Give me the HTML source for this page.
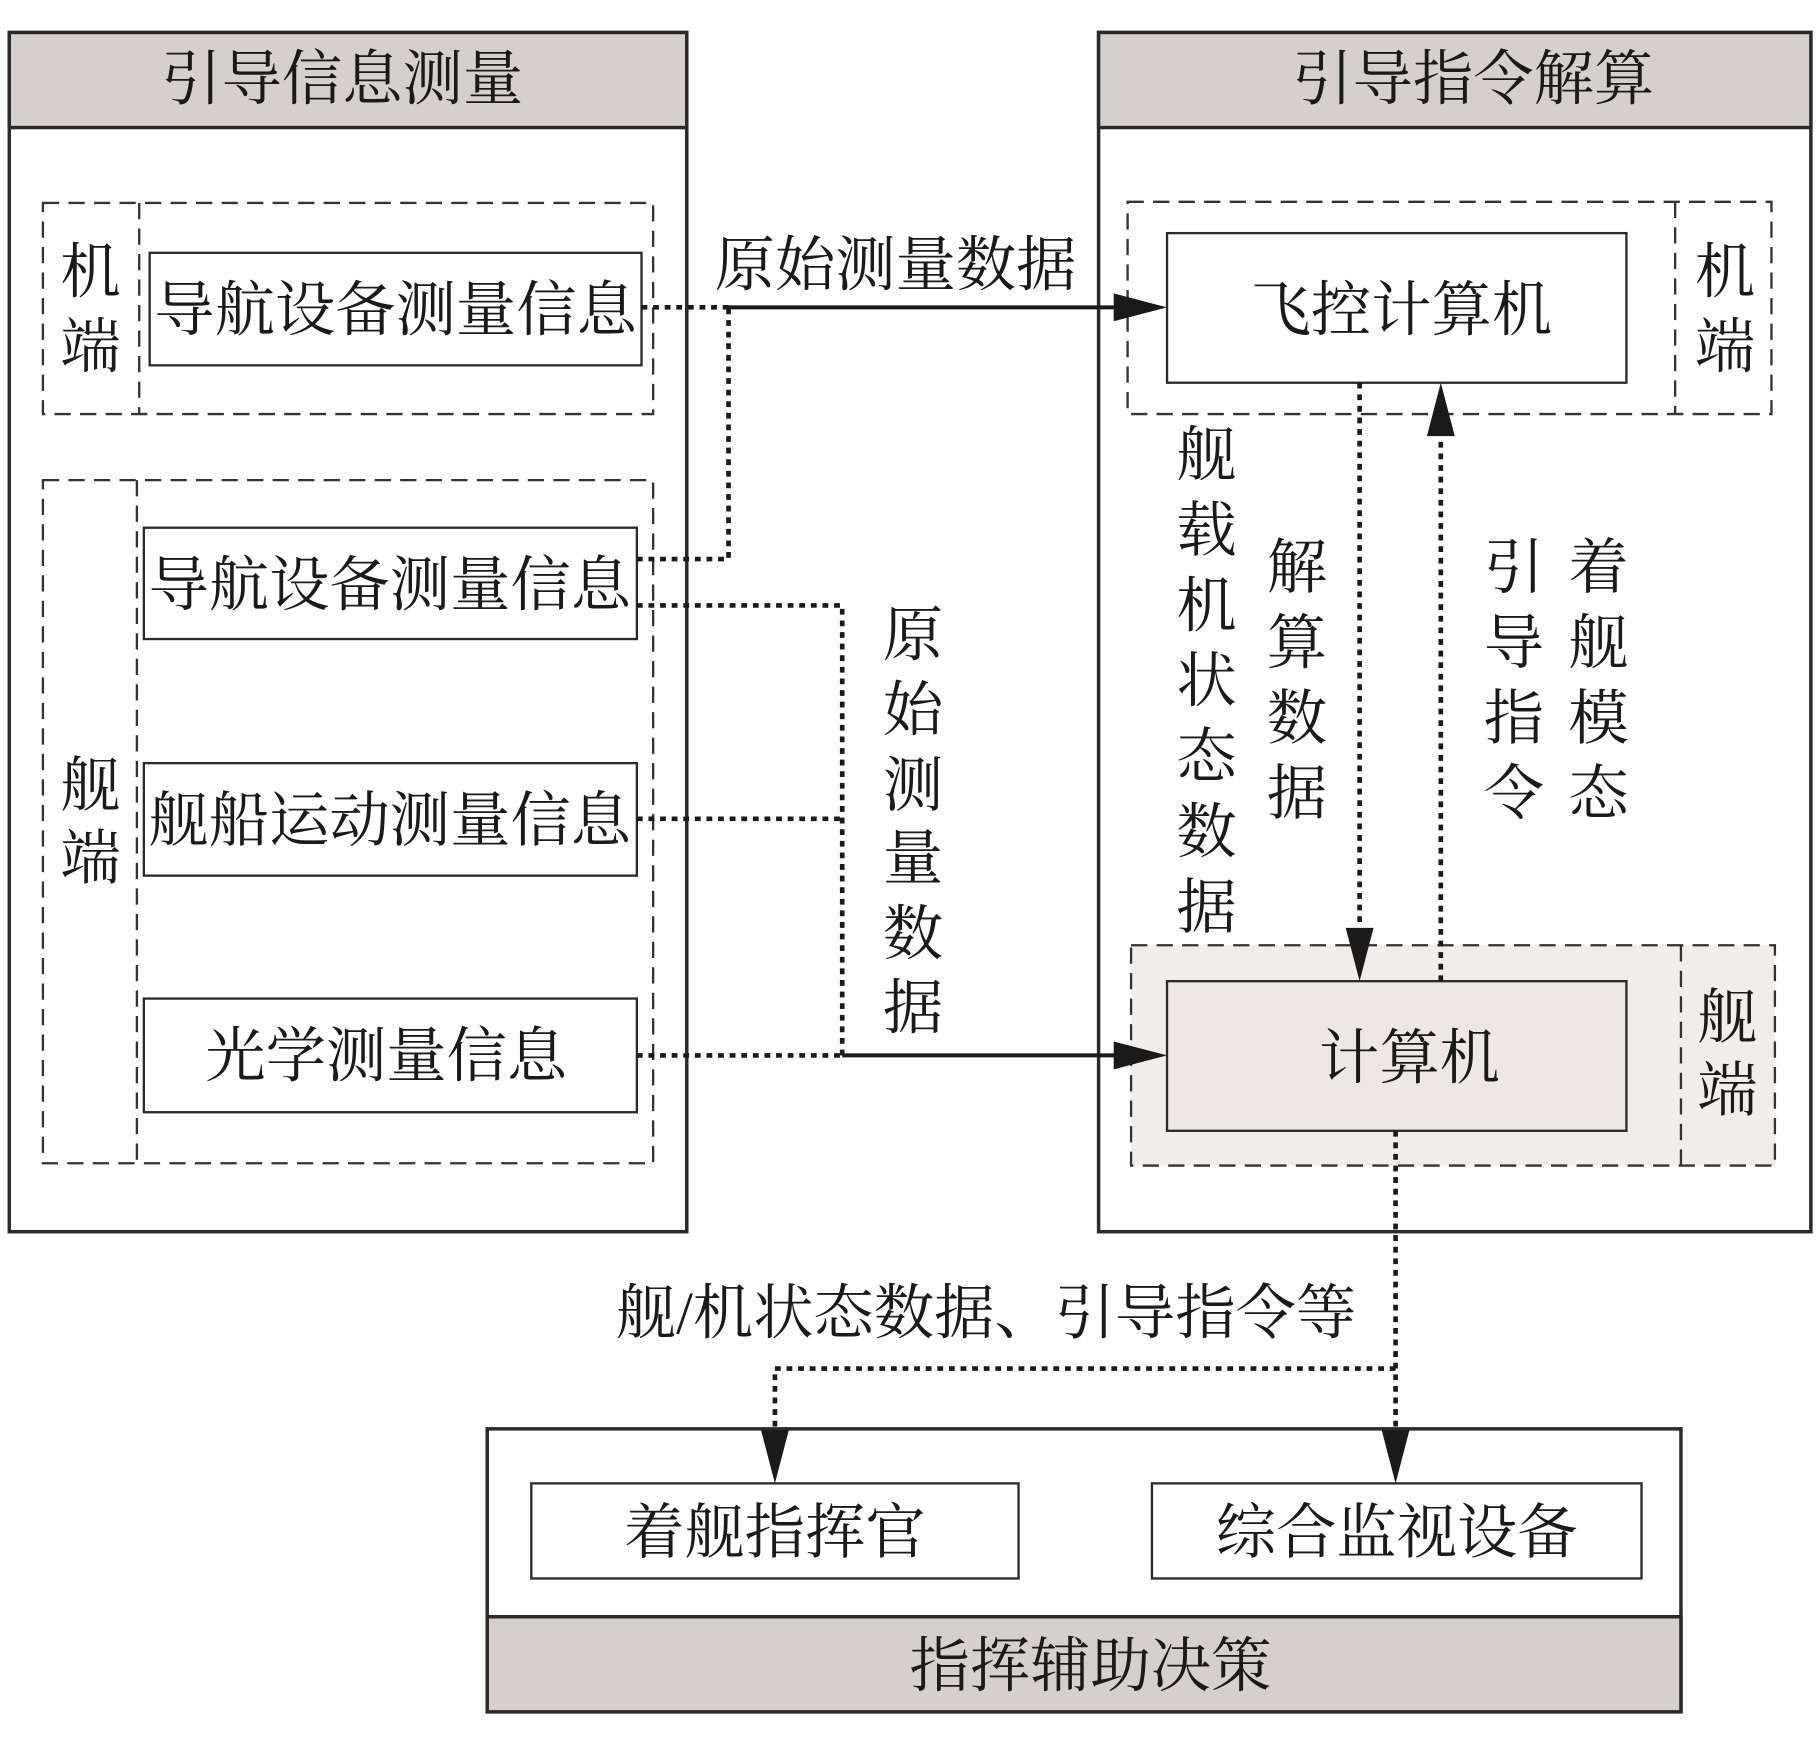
<!DOCTYPE html>
<html><head><meta charset="utf-8"><style>
html,body{margin:0;padding:0;background:#fff;}
svg{display:block;}
text{font-family:"Liberation Serif","Noto Serif CJK SC",serif;fill:#1a1a1a;}
</style></head><body>
<svg width="1819" height="1742" viewBox="0 0 1568 1502" preserveAspectRatio="none" xmlns="http://www.w3.org/2000/svg">
<rect x="8" y="28" width="584" height="1034" fill="#fff" stroke="#2a2a2a" stroke-width="3"/>
<rect x="8" y="28" width="584" height="82" fill="#d6d0cd" stroke="#2a2a2a" stroke-width="3"/>
<text x="295" y="86" font-size="52" text-anchor="middle">引导信息测量</text>
<rect x="947" y="28" width="614" height="1034" fill="#fff" stroke="#2a2a2a" stroke-width="3"/>
<rect x="947" y="28" width="614" height="82" fill="#d6d0cd" stroke="#2a2a2a" stroke-width="3"/>
<text x="1270" y="86" font-size="52" text-anchor="middle">引导指令解算</text>

<g fill="none" stroke="#333" stroke-width="2" stroke-dasharray="14,8">
<rect x="37" y="175" width="526" height="182"/>
<line x1="120" y1="175" x2="120" y2="357"/>
<rect x="37" y="414" width="526" height="589"/>
<line x1="118" y1="414" x2="118" y2="1003"/>
<rect x="972" y="174" width="555" height="183"/>
<line x1="1444" y1="174" x2="1444" y2="357"/>
</g>
<rect x="975" y="815" width="555" height="190" fill="#f1edeb" stroke="#333" stroke-width="2" stroke-dasharray="14,8"/>
<line x1="1449" y1="815" x2="1449" y2="1005" stroke="#333" stroke-width="2" stroke-dasharray="14,8"/>

<g font-size="52" text-anchor="middle">
<text x="78" y="252">机</text><text x="78" y="317">端</text>
<text x="78" y="695">舰</text><text x="78" y="758">端</text>
<text x="1487" y="252">机</text><text x="1487" y="317">端</text>
<text x="1489" y="895">舰</text><text x="1489" y="958">端</text>
</g>

<g fill="#fff" stroke="#2a2a2a" stroke-width="2">
<rect x="129" y="218" width="424" height="97"/>
<rect x="124" y="455" width="425" height="96"/>
<rect x="124" y="658" width="425" height="97"/>
<rect x="124" y="861" width="425" height="98"/>
<rect x="1006" y="201" width="396" height="129"/>
<rect x="1006" y="846" width="396" height="129" fill="#ede8e5"/>
</g>
<g font-size="52" text-anchor="middle">
<text x="341" y="285" textLength="416">导航设备测量信息</text>
<text x="336" y="522" textLength="416">导航设备测量信息</text>
<text x="336" y="725" textLength="416">舰船运动测量信息</text>
<text x="333" y="928">光学测量信息</text>
<text x="1208" y="285">飞控计算机</text>
<text x="1215" y="930">计算机</text>
</g>

<rect x="420" y="1232" width="1029" height="244" fill="#fff" stroke="#2a2a2a" stroke-width="3"/>
<rect x="420" y="1394" width="1029" height="82" fill="#d6d0cd" stroke="#2a2a2a" stroke-width="3"/>
<text x="940" y="1454" font-size="52" text-anchor="middle">指挥辅助决策</text>
<rect x="458" y="1279" width="420" height="82" fill="#fff" stroke="#2a2a2a" stroke-width="2"/>
<rect x="993" y="1279" width="422" height="82" fill="#fff" stroke="#2a2a2a" stroke-width="2"/>
<text x="668" y="1339" font-size="52" text-anchor="middle">着舰指挥官</text>
<text x="1204" y="1339" font-size="52" text-anchor="middle">综合监视设备</text>

<g fill="none" stroke="#1a1a1a" stroke-width="4" stroke-dasharray="5,5">
<line x1="553" y1="265" x2="628" y2="265"/>
<polyline points="549,482 628,482 628,265"/>
<polyline points="549,522 726,522 726,910"/>
<line x1="549" y1="706" x2="726" y2="706"/>
<line x1="549" y1="910" x2="726" y2="910"/>
<line x1="1172" y1="330" x2="1172" y2="800"/>
<line x1="1242" y1="846" x2="1242" y2="376"/>
<line x1="1203" y1="975" x2="1203" y2="1236"/>
<polyline points="1203,1180 668,1180 668,1236"/>
</g>
<g stroke="#1a1a1a" stroke-width="3.5">
<line x1="628" y1="265" x2="962" y2="265"/>
<line x1="726" y1="910" x2="962" y2="910"/>
</g>
<g fill="#1a1a1a">
<path d="M960,253 L1006,265 L960,277 z"/>
<path d="M960,898 L1006,910 L960,922 z"/>
<path d="M1160,800 L1172,846 L1184,800 z"/>
<path d="M1230,376 L1242,330 L1254,376 z"/>
<path d="M1191,1233 L1203,1279 L1215,1233 z"/>
<path d="M656,1233 L668,1279 L680,1233 z"/>
</g>

<g font-size="52" text-anchor="middle">
<text x="772" y="246">原始测量数据</text>
<text x="787" y="565">原</text><text x="787" y="630">始</text><text x="787" y="695">测</text><text x="787" y="758">量</text><text x="787" y="823">数</text><text x="787" y="887">据</text>
<text x="1040" y="410">舰</text><text x="1040" y="475">载</text><text x="1040" y="540">机</text><text x="1040" y="605">状</text><text x="1040" y="670">态</text><text x="1040" y="735">数</text><text x="1040" y="800">据</text>
<text x="1118" y="507">解</text><text x="1118" y="572">算</text><text x="1118" y="637">数</text><text x="1118" y="702">据</text>
<text x="1305" y="507">引</text><text x="1305" y="572">导</text><text x="1305" y="637">指</text><text x="1305" y="702">令</text>
<text x="1378" y="507">着</text><text x="1378" y="572">舰</text><text x="1378" y="637">模</text><text x="1378" y="702">态</text>
<text x="850" y="1150">舰/机状态数据、引导指令等</text>
</g>
</svg>
</body></html>
